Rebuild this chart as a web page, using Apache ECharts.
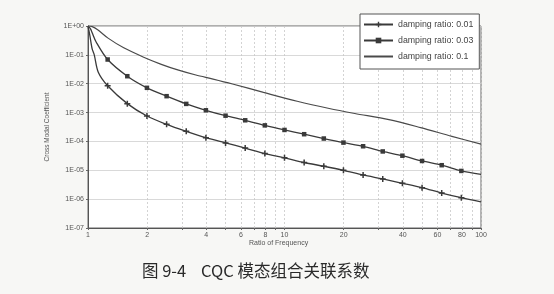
<!DOCTYPE html>
<html>
<head>
<meta charset="utf-8">
<script src="https://cdn.jsdelivr.net/npm/echarts@6/dist/echarts.min.js"></script>
<style>html,body{margin:0;padding:0;background:#f7f7f5;}#c{width:554px;height:294px;}</style>
</head>
<body>
<div id="c"></div>
<script>
// Frequency ratios and CQC coefficients
const ratio001 = [1, 1.02, 1.05, 1.076, 1.128, 1.259, 1.585, 1.995, 2.512, 3.162, 3.981, 5.012, 6.310, 7.943, 10, 12.59, 15.85, 19.95, 25.12, 31.62, 39.81, 50.12, 63.10, 79.43, 100];
const value001 = [1, 0.5, 0.16, 0.1, 0.025, 8.5e-3, 2.04e-3, 7.6e-4, 3.9e-4, 2.24e-4, 1.35e-4, 8.9e-5, 5.9e-5, 3.8e-5, 2.7e-5, 1.86e-5, 1.38e-5, 1.0e-5, 6.9e-6, 5.0e-6, 3.55e-6, 2.5e-6, 1.62e-6, 1.12e-6, 8.1e-7];

const ratio003 = [1, 1.03, 1.05, 1.10, 1.259, 1.585, 1.995, 2.512, 3.162, 3.981, 5.012, 6.310, 7.943, 10, 12.59, 15.85, 19.95, 25.12, 31.62, 39.81, 50.12, 63.10, 79.43, 100];
const value003 = [1, 0.8, 0.58, 0.28, 0.069, 0.0182, 7.2e-3, 3.7e-3, 2.0e-3, 1.2e-3, 7.8e-4, 5.4e-4, 3.6e-4, 2.5e-4, 1.78e-4, 1.26e-4, 9.1e-5, 6.8e-5, 4.5e-5, 3.2e-5, 2.1e-5, 1.5e-5, 9.5e-6, 7.2e-6];

const ratio01 = [1, 1.05, 1.12, 1.265, 1.52, 1.92, 2.36, 2.89, 3.54, 4.33, 5.44, 7.82, 11.6, 16.9, 22.8, 34.0, 49.3, 71.1, 100];
const value01 = [1, 0.95, 0.74, 0.38, 0.175, 0.083, 0.047, 0.0295, 0.020, 0.0145, 0.0098, 0.0050, 0.00246, 0.00138, 9.3e-4, 5.7e-4, 3.0e-4, 1.5e-4, 8.1e-5];

const seriesNames = ['damping ratio: 0.01', 'damping ratio: 0.03', 'damping ratio: 0.1'];
const xTickLabels = [1, 2, 4, 6, 8, 10, 20, 40, 60, 80, 100];
const xGridValues = [1, 2, 3, 4, 5, 6, 7, 8, 9, 10, 20, 30, 40, 50, 60, 70, 80, 90, 100];
const yTickValues = [1e-7, 1e-6, 1e-5, 1e-4, 1e-3, 1e-2, 1e-1, 1];
const caption = '图 9-4    CQC 模态组合关联系数';

function isMarker(r) {
  const k = Math.log10(r) * 10;
  return r > 1.001 && r < 99.9 && Math.abs(k - Math.round(k)) < 0.005;
}
function build(rs, vs, marked) {
  return rs.map((r, i) => {
    const item = { value: [r, vs[i]] };
    if (!marked || !isMarker(r)) item.symbol = 'none';
    return item;
  });
}
function fmtE(v) {
  const e = Math.round(Math.log10(v));
  return '1E' + (e >= 0 ? '+' : '-') + String(Math.abs(e)).padStart(2, '0');
}

const plus = 'path://M3,0H5V3H8V5H5V8H3V5H0V3H3Z';
const lineCol = '#3a3a3a';
const font = 'Liberation Sans, Arial, sans-serif';

const chart = echarts.init(document.getElementById('c'), null, { renderer: 'canvas' });
chart.setOption({
  backgroundColor: '#f7f7f5',
  animation: false,
  textStyle: { fontFamily: font },
  title: [
    { text: 'Ratio of Frequency', left: 244, top: 235, textStyle: { fontSize: 7, fontWeight: 'normal', color: '#555', fontFamily: font } },
    { text: caption, left: 137, top: 257, textStyle: { fontSize: 16.5, fontWeight: 'normal', color: '#2a2a2a', fontFamily: 'Noto Sans CJK SC' } }
  ],
  grid: { left: 88, right: 73, top: 26, bottom: 66, show: true, backgroundColor: '#fff', borderColor: '#666', borderWidth: 1 },
  legend: {
    orient: 'vertical', left: 360, top: 14,
    itemWidth: 29, itemHeight: 7, itemGap: 7,
    padding: [6, 6, 8, 3],
    backgroundColor: '#fff', borderColor: '#555', borderWidth: 1,
    textStyle: { fontSize: 8.8, color: '#444', fontFamily: font },
    data: [
      { name: seriesNames[0] },
      { name: seriesNames[1] },
      { name: seriesNames[2], itemStyle: { opacity: 0 } }
    ]
  },
  xAxis: {
    type: 'log', logBase: 10, min: 1, max: 100,
    axisLine: { lineStyle: { color: '#555', width: 1 } },
    axisTick: { show: true, customValues: xGridValues, length: 2, inside: false, lineStyle: { color: '#666' } },
    axisLabel: { customValues: xTickLabels, fontSize: 7, color: '#555', margin: 4, formatter: v => String(Math.round(v)) },
    splitLine: { show: true, lineStyle: { color: '#c8c8c8', type: [2, 2], width: 0.8 } }
  },
  yAxis: {
    type: 'log', logBase: 10, min: 1e-7, max: 1,
    name: 'Cross Modal Coefficient', nameLocation: 'middle', nameGap: 37,
    nameTextStyle: { fontSize: 6.5, color: '#555', fontFamily: font },
    axisLine: { show: true, lineStyle: { color: '#555', width: 1 } },
    axisTick: { show: true, customValues: yTickValues, length: 2, lineStyle: { color: '#666' } },
    axisLabel: { customValues: yTickValues, fontSize: 7, color: '#555', margin: 4, formatter: fmtE },
    splitLine: { show: true, lineStyle: { color: '#cfcfcf', width: 0.8 } }
  },
  series: [
    {
      name: seriesNames[0], type: 'line', data: build(ratio001, value001, true),
      symbol: plus, symbolSize: 6, showAllSymbol: true, smooth: 0.3,
      lineStyle: { color: lineCol, width: 1.3 }, itemStyle: { color: lineCol }
    },
    {
      name: seriesNames[1], type: 'line', data: build(ratio003, value003, true),
      symbol: 'rect', symbolSize: 4.5, showAllSymbol: true, smooth: 0.3,
      lineStyle: { color: lineCol, width: 1.3 }, itemStyle: { color: lineCol }
    },
    {
      name: seriesNames[2], type: 'line', data: build(ratio01, value01, false),
      symbol: 'none', showSymbol: false, smooth: 0.3,
      lineStyle: { color: '#4a4a4a', width: 1.2 }, itemStyle: { color: '#4a4a4a' }
    }
  ]
});
</script>
</body>
</html>
